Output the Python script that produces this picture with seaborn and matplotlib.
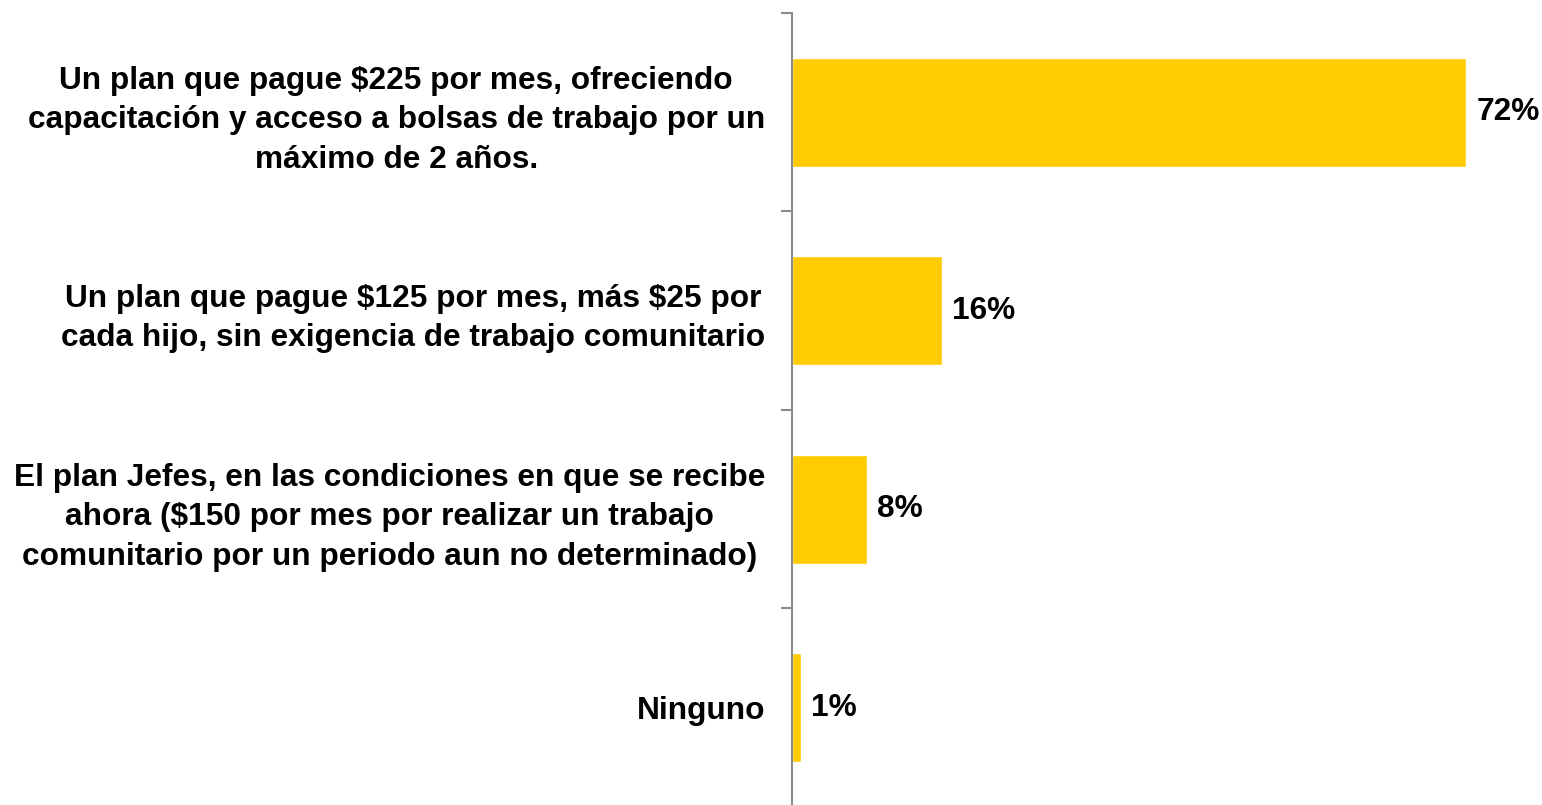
import numpy as np
import pandas as pd
import seaborn as sns
import matplotlib.pyplot as plt

# Survey options and share of responses (%)
options = [
    'Un plan que pague \\$225 por mes, ofreciendo\ncapacitación y acceso a bolsas de trabajo por un\nmáximo de 2 años.',
    'Un plan que pague \\$125 por mes, más \\$25 por\ncada hijo, sin exigencia de trabajo comunitario',
    'El plan Jefes, en las condiciones en que se recibe\nahora (\\$150 por mes por realizar un trabajo\ncomunitario por un periodo aun no determinado)',
    'Ninguno',
]
shares = [72, 16, 8, 1]
value_labels = ['72%', '16%', '8%', '1%']

df = pd.DataFrame({'opcion': options, 'pct': shares})

sns.set_style('white')
plt.rcParams['font.family'] = ['Liberation Sans', 'DejaVu Sans']
plt.rcParams['text.color'] = 'black'
plt.rcParams['ytick.labelcolor'] = 'black'

fs = 22.8
fig = plt.figure(figsize=(15.42, 8.05), dpi=100)
ax = fig.add_axes([0.5136, -0.0025, 0.486, 0.9864])

sns.barplot(data=df, x='pct', y='opcion', orient='h', color='#FFCC00',
            width=0.55, saturation=1, ax=ax)

ax.set_xlim(0, 80)
ax.set_ylim(len(options) - 0.5, -0.5)
ax.set_xlabel('')
ax.set_ylabel('')
ax.set_xticks([])

for s in ['top', 'right', 'bottom']:
    ax.spines[s].set_visible(False)
ax.spines['left'].set_color('#8c8c8c')
ax.spines['left'].set_linewidth(1.5)

# category labels without ticks, boundary ticks as minor
ax.set_yticks(range(len(options)), labels=options, fontsize=fs, fontweight='bold',
              linespacing=1.4, multialignment='center', color='black')
ax.tick_params(axis='y', which='major', length=0, pad=19.5)
ax.set_yticks(np.arange(-0.5, len(options)), minor=True)
ax.tick_params(axis='y', which='minor', left=True, length=8, width=1.5,
               color='#8c8c8c', direction='out')

for i, (v, t) in enumerate(zip(shares, value_labels)):
    ax.annotate(t, (v, i), xytext=(7, 0), textcoords='offset points',
                va='center', ha='left', fontsize=fs, fontweight='bold', color='black')

fig.savefig('out.png', dpi=100)
